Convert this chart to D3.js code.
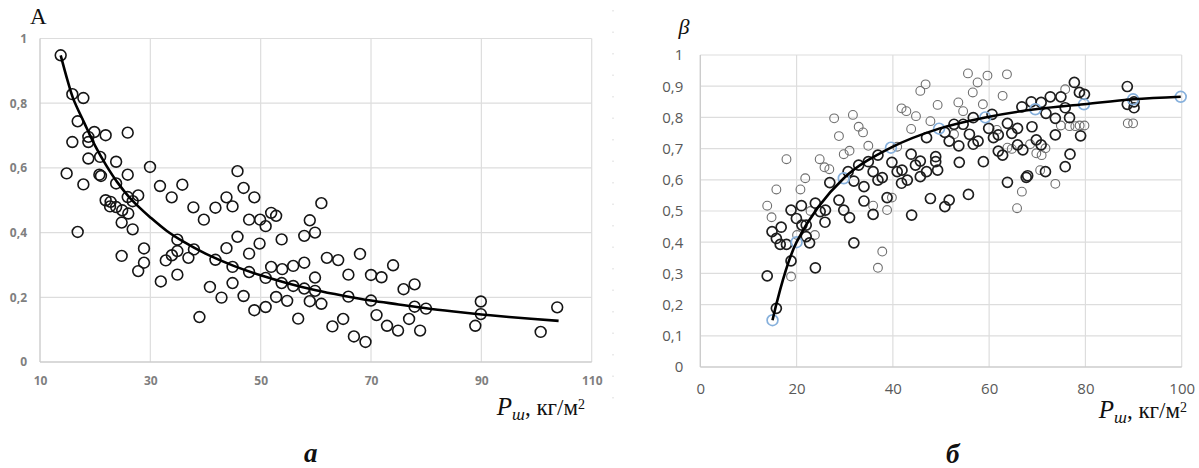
<!DOCTYPE html>
<html>
<head>
<meta charset="utf-8">
<script src="https://cdn.jsdelivr.net/npm/d3@7"></script>
<style>
  body { margin: 0; background: #fff; }
  svg { display: block; }
</style>
</head>
<body>
<svg id="chart" width="1199" height="468"></svg>
<script>
// ---------- Panel "а": A versus P_ш ----------
const aTicksX = [10, 30, 50, 70, 90, 110];
const aTicksY = [0, 0.2, 0.4, 0.6, 0.8, 1];

// measured points [P_ш, A]
const aPoints = [
  [13.75,0.948],[15.86,0.828],[17.86,0.816],[16.83,0.744],[19.85,0.711],[21.9,0.701],[25.9,0.709],
  [18.76,0.696],[18.76,0.680],[15.86,0.680],[20.9,0.634],[18.76,0.629],[23.8,0.619],[14.83,0.583],
  [20.76,0.579],[21.05,0.575],[25.9,0.579],[29.94,0.603],[17.86,0.549],[23.8,0.552],[31.75,0.544],
  [35.8,0.548],[33.87,0.509],[25.9,0.510],[27.8,0.515],[26.8,0.497],[21.9,0.500],[22.8,0.495],
  [22.7,0.481],[23.8,0.479],[24.9,0.469],[26.0,0.459],[24.8,0.431],[26.8,0.410],[16.83,0.402],
  [37.8,0.478],[39.7,0.440],[41.8,0.477],[43.8,0.509],[44.9,0.481],[45.8,0.590],[46.9,0.538],
  [48.85,0.509],[47.9,0.440],[49.9,0.440],[50.9,0.420],[51.9,0.461],[52.8,0.452],[53.8,0.379],
  [45.8,0.387],[43.8,0.352],[47.9,0.335],[49.8,0.366],[34.9,0.378],[34.9,0.343],[33.9,0.330],
  [32.8,0.314],[28.85,0.351],[28.85,0.307],[27.8,0.281],[24.8,0.328],[31.9,0.249],[34.9,0.270],
  [36.9,0.322],[37.9,0.348],[41.8,0.316],[44.9,0.294],[47.9,0.278],[40.8,0.232],[42.9,0.199],
  [38.9,0.139],[44.9,0.244],[46.9,0.204],[48.85,0.160],[50.9,0.170],[50.9,0.260],[51.9,0.294],
  [53.9,0.287],[55.9,0.297],[57.9,0.307],[53.8,0.244],[55.9,0.235],[52.8,0.201],[54.8,0.189],
  [56.8,0.134],[57.9,0.227],[58.9,0.188],[59.85,0.261],[59.85,0.220],[58.9,0.438],[59.85,0.400],
  [57.9,0.390],[61.0,0.491],[61.0,0.180],
  [62.0,0.322],[64.05,0.315],[68.0,0.334],[74.0,0.299],[65.9,0.270],[70.0,0.269],[71.9,0.262],
  [75.9,0.225],[77.9,0.240],[65.9,0.202],[70.0,0.190],[77.9,0.171],[79.97,0.165],[71.0,0.145],
  [76.9,0.133],[64.95,0.133],[63.0,0.110],[72.9,0.112],[74.9,0.097],[78.9,0.097],[66.9,0.079],
  [69.0,0.062],[89.9,0.187],[89.9,0.148],[88.9,0.112],[103.75,0.169],[100.75,0.093]
];

// fitted trend
const aTrend = [
  [13.75,0.948],[15,0.870],[16,0.815],[18,0.740],[20,0.668],[22,0.608],[24,0.556],[26,0.513],
  [28,0.478],[30,0.447],[33,0.405],[36,0.372],[40,0.335],[45,0.298],[50,0.268],[55,0.243],
  [60,0.222],[65,0.205],[70,0.190],[75,0.178],[80,0.166],[85,0.156],[90,0.147],[95,0.139],[104,0.127]
];

// ---------- Panel "б": β versus P_ш ----------
const bTicksX = [0, 20, 40, 60, 80, 100];
const bTicksY = [0, 0.1, 0.2, 0.3, 0.4, 0.5, 0.6, 0.7, 0.8, 0.9, 1];

// main sample [P_ш, β]
const bDark = [
  [15.8,0.188],[13.9,0.292],[18.85,0.34],[23.9,0.318],[31.9,0.398],[22.7,0.398],[16.6,0.393],
  [17.9,0.393],[15.8,0.412],[14.9,0.434],[16.8,0.448],[22.0,0.418],[21.1,0.455],[22.0,0.455],
  [19.96,0.476],[18.85,0.503],[21.0,0.517],[23.9,0.525],[24.9,0.498],[26.0,0.503],[25.9,0.464],
  [26.9,0.591],[28.8,0.535],[29.8,0.503],[31.0,0.479],[30.7,0.626],[31.9,0.596],[32.9,0.647],
  [34.0,0.578],[34.0,0.532],[35.9,0.489],[34.9,0.658],[35.9,0.626],[36.9,0.599],[37.8,0.607],
  [36.9,0.679],[38.8,0.543],[43.9,0.487],[39.8,0.656],[40.9,0.626],[41.9,0.631],[41.8,0.589],
  [43.0,0.599],[43.8,0.682],[47.0,0.735],[45.7,0.66],[44.7,0.647],[45.7,0.61],[47.0,0.626],
  [47.8,0.54],[48.9,0.674],[48.9,0.658],[49.3,0.631],
  [50.8,0.752],[50.8,0.514],[51.7,0.535],[55.7,0.553],[52.7,0.778],[54.6,0.778],[56.7,0.799],
  [60.6,0.81],[55.9,0.746],[51.7,0.724],[53.7,0.709],[56.7,0.714],[57.7,0.724],[59.9,0.765],
  [60.9,0.735],[61.9,0.744],[63.8,0.781],[65.9,0.765],[64.7,0.749],[68.9,0.77],[61.9,0.692],
  [62.8,0.679],[65.9,0.712],[67.0,0.696],[69.8,0.728],[70.8,0.712],[71.7,0.626],[63.8,0.592],
  [67.7,0.608],[68.0,0.613],[75.8,0.642],[76.8,0.682],[73.75,0.744],[73.75,0.797],[71.8,0.813],
  [76.7,0.799],[75.8,0.831],[74.9,0.866],[72.7,0.866],[70.8,0.848],[68.75,0.85],[66.8,0.834],
  [77.7,0.912],[78.75,0.88],[79.8,0.874],[79.0,0.741],[88.7,0.899],[88.7,0.842],[90.1,0.85],
  [90.1,0.831],[53.8,0.656],[58.8,0.658]
];

// second sample [P_ш, β]
const bLight = [
  [18.85,0.29],[36.9,0.318],[37.8,0.37],[20.1,0.423],[23.8,0.423],[14.8,0.48],[13.9,0.517],
  [15.8,0.569],[17.9,0.666],[20.8,0.569],[21.8,0.605],[22.9,0.5],[24.8,0.666],[25.8,0.64],
  [26.8,0.634],[27.8,0.797],[28.8,0.74],[29.8,0.682],[31.0,0.693],[31.7,0.808],[32.9,0.77],
  [33.8,0.752],[34.9,0.709],[35.9,0.517],[39.8,0.543],[38.8,0.503],[40.9,0.706],[43.8,0.763],
  [44.8,0.804],[41.8,0.829],[42.8,0.82],[45.7,0.885],[46.8,0.906],[47.8,0.788],[49.3,0.84],
  [55.6,0.941],[57.6,0.912],[59.65,0.934],[63.7,0.938],[56.6,0.88],[62.8,0.869],[53.6,0.848],
  [58.7,0.842],[54.6,0.82],[52.7,0.746],[61.6,0.76],[63.8,0.703],[64.7,0.699],[68.5,0.714],
  [69.8,0.685],[70.9,0.679],[71.7,0.701],[70.6,0.631],[66.8,0.562],[65.8,0.509],[73.75,0.587],
  [74.9,0.774],[75.8,0.89],[76.7,0.772],[77.9,0.772],[78.8,0.774],[79.8,0.774],[88.8,0.781],[89.9,0.781]
];

// averaged values, joined by the trend line
const bMeans = [
  [15,0.15],[20,0.40],[29.8,0.605],[39.6,0.703],[49.6,0.764],[59.2,0.80],
  [69.6,0.826],[79.7,0.842],[89.9,0.858],[99.8,0.866]
];

// ---------- drawing ----------
const svg = d3.select("#chart");
const comma = d => String(d).replace(".", ",");
const GRID = "#dddddd", AXIS = "#cccccc";

function frame(x, y, ticksX, ticksY) {
  const g = svg.append("g");
  const [x0, x1] = x.range(), [y0, y1] = y.range();
  g.selectAll(".gy").data(ticksY.filter(v => v !== 0)).enter().append("line")
    .attr("x1", x0).attr("x2", x1).attr("y1", d => y(d)).attr("y2", d => y(d))
    .attr("stroke", GRID).attr("stroke-width", 1.2);
  g.selectAll(".gx").data(ticksX.slice(1)).enter().append("line")
    .attr("y1", y0).attr("y2", y1).attr("x1", d => x(d)).attr("x2", d => x(d))
    .attr("stroke", GRID).attr("stroke-width", 1.2);
  g.append("line").attr("x1", x0).attr("x2", x1).attr("y1", y0).attr("y2", y0)
    .attr("stroke", AXIS).attr("stroke-width", 1.4);
  g.append("line").attr("x1", x0).attr("x2", x0).attr("y1", y0).attr("y2", y1)
    .attr("stroke", AXIS).attr("stroke-width", 1.4);
}

function axes(x, y, ticksX, ticksY, style) {
  const gx = svg.append("g").attr("transform", `translate(0,${y.range()[0]})`)
    .call(d3.axisBottom(x).tickValues(ticksX).tickSize(0).tickPadding(style.padX).tickFormat(comma));
  const gy = svg.append("g").attr("transform", `translate(${x.range()[0]},0)`)
    .call(d3.axisLeft(y).tickValues(ticksY).tickSize(0).tickPadding(style.padY).tickFormat(comma));
  [gx, gy].forEach(g => {
    g.select(".domain").remove();
    g.selectAll("text")
      .attr("font-family", "'Open Sans', sans-serif")
      .attr("font-size", style.size)
      .attr("font-weight", style.weight)
      .attr("fill", style.color);
  });
}

function axisTitle(xEnd, yBase) {
  const t = svg.append("text").attr("x", xEnd).attr("y", yBase)
    .attr("text-anchor", "end").attr("font-family", "'Liberation Serif', serif").attr("fill", "#111");
  t.append("tspan").attr("font-size", 25).attr("font-style", "italic").text("P");
  t.append("tspan").attr("font-size", 17).attr("font-style", "italic").attr("dy", 5).text("ш");
  t.append("tspan").attr("font-size", 23).attr("dy", -5).text(", кг/м");
  t.append("tspan").attr("font-size", 14).attr("dy", -6).text("2");
}

// Panel "а"
const ax = d3.scaleLinear().domain([10, 110]).range([40, 591.7]);
const ay = d3.scaleLinear().domain([0, 1]).range([362, 38.5]);
frame(ax, ay, aTicksX, aTicksY);
axes(ax, ay, aTicksX, aTicksY, { size: 12, weight: 700, color: "#7f7f7f", padX: 14.5, padY: 13 });

svg.append("g").selectAll("circle").data(aPoints).enter().append("circle")
  .attr("cx", d => ax(d[0])).attr("cy", d => ay(d[1])).attr("r", 5.4)
  .attr("fill", "none").attr("stroke", "#151515").attr("stroke-width", 1.6);

svg.append("path").datum(aTrend)
  .attr("d", d3.line().x(d => ax(d[0])).y(d => ay(d[1])).curve(d3.curveCatmullRom))
  .attr("fill", "none").attr("stroke", "#000").attr("stroke-width", 2.6);

svg.append("text").attr("x", 30).attr("y", 24)
  .attr("font-family", "'Liberation Serif', serif").attr("font-size", 23).attr("fill", "#111").text("A");
axisTitle(585, 415);
svg.append("text").attr("x", 304).attr("y", 462)
  .attr("font-family", "'Liberation Serif', serif").attr("font-size", 27)
  .attr("font-style", "italic").attr("font-weight", 700).attr("fill", "#111").text("а");

// faint separator between the panels
svg.append("line").attr("x1", 613).attr("x2", 613).attr("y1", 10).attr("y2", 415)
  .attr("stroke", "#d6d6d6").attr("stroke-width", 1).attr("stroke-dasharray", "1.5,20");

// Panel "б"
const bx = d3.scaleLinear().domain([0, 100]).range([700.3, 1181.7]);
const by = d3.scaleLinear().domain([0, 1]).range([367, 55]);
frame(bx, by, bTicksX, bTicksY);
axes(bx, by, bTicksX, bTicksY, { size: 15, weight: 400, color: "#595959", padX: 16.5, padY: 17 });

svg.append("g").selectAll("circle").data(bLight).enter().append("circle")
  .attr("cx", d => bx(d[0])).attr("cy", d => by(d[1])).attr("r", 4.4)
  .attr("fill", "none").attr("stroke", "#6f6f6f").attr("stroke-width", 1.1);

svg.append("g").selectAll("circle").data(bDark).enter().append("circle")
  .attr("cx", d => bx(d[0])).attr("cy", d => by(d[1])).attr("r", 5)
  .attr("fill", "none").attr("stroke", "#1e1e1e").attr("stroke-width", 1.7);

svg.append("g").selectAll("circle").data(bMeans).enter().append("circle")
  .attr("cx", d => bx(d[0])).attr("cy", d => by(d[1])).attr("r", 5.4)
  .attr("fill", "none").attr("stroke", "#86b0dc").attr("stroke-width", 1.7);

svg.append("path").datum(bMeans)
  .attr("d", d3.line().x(d => bx(d[0])).y(d => by(d[1])).curve(d3.curveCatmullRom))
  .attr("fill", "none").attr("stroke", "#000").attr("stroke-width", 2.6);

svg.append("text").attr("x", 684).attr("y", 34).attr("text-anchor", "middle")
  .attr("font-family", "'Liberation Serif', serif").attr("font-size", 22)
  .attr("font-style", "italic").attr("fill", "#111").text("β");
axisTitle(1187, 418);
svg.append("text").attr("x", 946).attr("y", 463)
  .attr("font-family", "'Liberation Serif', serif").attr("font-size", 27)
  .attr("font-style", "italic").attr("font-weight", 700).attr("fill", "#111").text("б");
</script>
</body>
</html>
